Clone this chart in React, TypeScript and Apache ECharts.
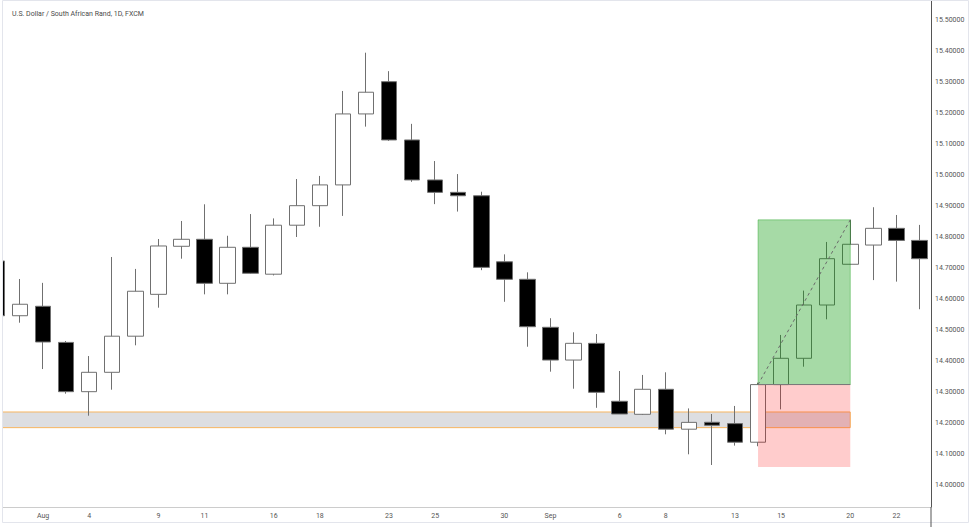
import React, { useEffect, useRef } from 'react';
import * as echarts from 'echarts';

const chartTitle = 'U.S. Dollar / South African Rand, 1D, FXCM';

const dates = [
  'Jul 29', 'Jul 30', 'Aug 2', 'Aug 3', 'Aug 4', 'Aug 5', 'Aug 6', 'Aug 9', 'Aug 10', 'Aug 11',
  'Aug 12', 'Aug 13', 'Aug 16', 'Aug 17', 'Aug 18', 'Aug 19', 'Aug 20', 'Aug 23', 'Aug 24', 'Aug 25',
  'Aug 26', 'Aug 27', 'Aug 30', 'Aug 31', 'Sep 1', 'Sep 2', 'Sep 3', 'Sep 6', 'Sep 7', 'Sep 8',
  'Sep 9', 'Sep 10', 'Sep 13', 'Sep 14', 'Sep 15', 'Sep 16', 'Sep 17', 'Sep 20', 'Sep 21', 'Sep 22',
  'Sep 23',
];

const opens = [
  14.7226, 14.546, 14.5765, 14.46, 14.301, 14.3635, 14.48, 14.615, 14.77, 14.7926,
  14.6506, 14.7668, 14.68, 14.838, 14.901, 14.968, 15.197, 15.301, 15.113, 14.984,
  14.944, 14.933, 14.72, 14.6635, 14.5087, 14.403, 14.457, 14.27, 14.228, 14.3087,
  14.18, 14.2023, 14.198, 14.138, 14.32382, 14.4087, 14.5806, 14.712, 14.774, 14.828,
  14.789,
];
const closes = [
  14.546, 14.583, 14.4613, 14.301, 14.3635, 14.48, 14.625, 14.771, 14.7926, 14.6506,
  14.7668, 14.683, 14.838, 14.901, 14.968, 15.197, 15.267, 15.113, 14.984, 14.944,
  14.933, 14.702, 14.6635, 14.5106, 14.403, 14.457, 14.299, 14.229, 14.3087, 14.18,
  14.202, 14.1926, 14.138, 14.32382, 14.4087, 14.5806, 14.73, 14.7765, 14.828, 14.789,
  14.73,
];
const lows = [
  14.54, 14.5235, 14.374, 14.2945, 14.2235, 14.3074, 14.4506, 14.572, 14.73, 14.615,
  14.615, 14.681, 14.676, 14.8, 14.833, 14.868, 15.156, 15.11, 14.978, 14.906,
  14.882, 14.693, 14.591, 14.446, 14.3655, 14.3106, 14.249, 14.229, 14.226, 14.1635,
  14.099, 14.0645, 14.127, 14.125, 14.244, 14.3816, 14.5345, 14.712, 14.661, 14.656,
  14.567,
];
const highs = [
  14.73, 14.6645, 14.652, 14.4645, 14.416, 14.7355, 14.697, 14.7935, 14.8516, 14.9055,
  14.804, 14.874, 14.86, 14.987, 14.997, 15.271, 15.3945, 15.335, 15.165, 15.045,
  15.003, 14.946, 14.744, 14.686, 14.538, 14.4926, 14.487, 14.3677, 14.355, 14.3635,
  14.247, 14.229, 14.255, 14.33, 14.484, 14.627, 14.784, 14.85532, 14.896, 14.871,
  14.839,
];

const tickDates = ['Aug 2', 'Aug 4', 'Aug 9', 'Aug 11', 'Aug 16', 'Aug 18', 'Aug 23', 'Aug 25', 'Aug 30', 'Sep 1', 'Sep 6', 'Sep 8', 'Sep 13', 'Sep 15', 'Sep 20', 'Sep 22'];
const tickTexts = ['Aug', '4', '9', '11', '16', '18', '23', '25', '30', 'Sep', '6', '8', '13', '15', '20', '22'];

const yMin = 13.929;
const yMax = 15.5645;

const targetPrice = 14.85532;
const entryPrice = 14.32382;
const stopPrice = 14.05792;
const positionStart = 'Sep 14';
const positionEnd = 'Sep 20';

const zoneTop = 14.2355;
const zoneBottom = 14.185;
const zoneStart = 'Jul 29';
const zoneEnd = 'Sep 20';

const FONT = 'Roboto, "Liberation Sans", Arial, sans-serif';
// the chart div starts this many pixels left of the page, so the first candle is cut in half
const SHIFT = 15;

export default function App() {
  const ref = useRef<HTMLDivElement>(null);

  useEffect(() => {
    if (!ref.current) return;
    const chart = echarts.init(ref.current, null, { renderer: 'svg' });
    const candles = dates.map((_, i) => [opens[i], closes[i], lows[i], highs[i]]);
    const ps = dates.indexOf(positionStart);
    const pe = dates.indexOf(positionEnd);
    const zs = dates.indexOf(zoneStart);
    const ze = dates.indexOf(zoneEnd);

    const tag = (value: number, bg: string) => ({
      yAxis: value,
      lineStyle: { opacity: 0 },
      label: {
        show: true,
        position: 'end',
        distance: 1,
        formatter: value.toFixed(5),
        backgroundColor: bg,
        color: '#ffffff',
        fontSize: 7,
        fontWeight: 'bold',
        fontFamily: FONT,
        padding: [2, 3, 1, 3],
      },
    });

    chart.setOption({
      animation: false,
      backgroundColor: '#ffffff',
      textStyle: { fontFamily: FONT },
      title: {
        text: chartTitle,
        left: 7 + SHIFT,
        top: 5,
        textStyle: { fontSize: 7, fontWeight: 'normal', color: '#4a4a4a', fontFamily: FONT },
      },
      grid: { left: 0.4, right: 43, top: 0, bottom: 20, outerBoundsMode: 'none', containLabel: false },
      xAxis: {
        type: 'category',
        data: dates,
        boundaryGap: true,
        axisLine: { lineStyle: { color: '#cccccc' } },
        axisTick: { show: false },
        splitLine: { show: false },
        axisLabel: {
          interval: (_i: number, v: string) => tickDates.includes(v),
          formatter: (v: string) => {
            const k = tickDates.indexOf(v);
            return k >= 0 ? tickTexts[k] : '';
          },
          fontSize: 7,
          color: '#555555',
          margin: 5,
        },
      },
      yAxis: {
        type: 'value',
        position: 'right',
        min: yMin,
        max: yMax,
        splitNumber: 16,
        axisLine: { show: true, lineStyle: { color: '#555555' } },
        axisTick: { show: false },
        splitLine: { show: false },
        axisLabel: {
          showMinLabel: false,
          showMaxLabel: false,
          formatter: (v: number) => v.toFixed(5),
          fontSize: 7,
          color: '#555555',
          margin: 4,
        },
      },
      graphic: [
        { type: 'rect', silent: true, z: 100, shape: { x: 0, y: 0, width: SHIFT + 2.5, height: 527 }, style: { fill: '#ffffff' } },
        { type: 'rect', silent: true, z: 101, shape: { x: SHIFT + 2.5, y: 0.5, width: 966, height: 522 }, style: { fill: 'none', stroke: '#e3e5ec', lineWidth: 1 } },
        { type: 'line', silent: true, z: 101, shape: { x1: SHIFT + 931, y1: 507, x2: SHIFT + 931, y2: 527 }, style: { stroke: '#555555', lineWidth: 1 } },
      ],
      series: [
        {
          type: 'line',
          name: 'zone',
          data: [],
          z: 1,
          markArea: {
            silent: true,
            z: 1,
            itemStyle: { color: 'rgba(120,123,134,0.25)', borderColor: '#f7b560', borderWidth: 1 },
            data: [[{ xAxis: zs, yAxis: zoneTop }, { xAxis: ze, yAxis: zoneBottom }]],
          },
        },
        {
          type: 'candlestick',
          name: 'USDZAR',
          data: candles,
          z: 2,
          barWidth: 16,
          itemStyle: {
            color: '#ffffff',
            color0: '#000000',
            borderColor: '#707070',
            borderColor0: '#707070',
            borderWidth: 1,
          },
        },
        {
          type: 'line',
          name: 'position',
          data: [],
          z: 5,
          clip: false,
          markArea: {
            silent: true,
            z: 5,
            data: [
              [
                { xAxis: ps, yAxis: targetPrice, itemStyle: { color: 'rgba(0,150,0,0.35)', borderColor: 'rgba(0,150,0,0.35)', borderWidth: 1 } },
                { xAxis: pe, yAxis: entryPrice },
              ],
              [
                { xAxis: ps, yAxis: entryPrice, itemStyle: { color: 'rgba(255,0,0,0.2)' } },
                { xAxis: pe, yAxis: stopPrice },
              ],
            ],
          },
          markLine: {
            silent: true,
            z: 6,
            symbol: 'none',
            label: { show: false },
            data: [
              [
                { coord: [ps, entryPrice], lineStyle: { color: '#7a7a7a', width: 1, type: 'solid' } },
                { coord: [pe, entryPrice] },
              ],
              [
                { coord: [ps, entryPrice], lineStyle: { color: '#6a6a6a', width: 1, type: [3, 3] } },
                { coord: [pe, targetPrice] },
              ],
              tag(targetPrice, '#12a012'),
              tag(entryPrice, '#4d4d4d'),
              tag(stopPrice, '#f80000'),
            ],
          },
        },
      ],
    });
    return () => chart.dispose();
  }, []);

  return (
    <div
      ref={ref}
      style={{ position: 'fixed', left: -SHIFT, top: 0, width: 974 + SHIFT, height: 527, background: '#ffffff' }}
    />
  );
}
